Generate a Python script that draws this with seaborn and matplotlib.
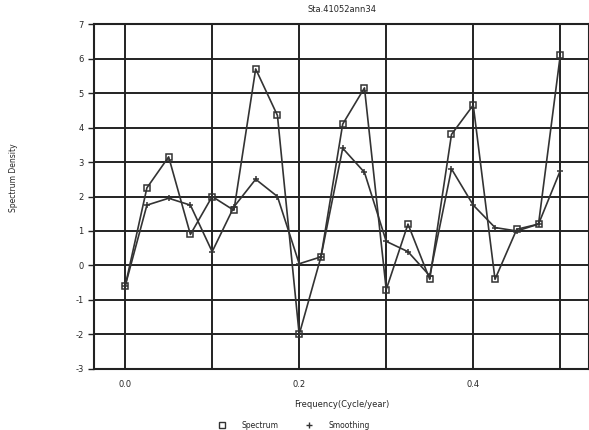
import numpy as np
import pandas as pd
import seaborn as sns
import matplotlib.pyplot as plt
from matplotlib.lines import Line2D

frequency = [0.0, 0.025, 0.05, 0.075, 0.1, 0.125, 0.15, 0.175, 0.2, 0.225, 0.25,
             0.275, 0.3, 0.325, 0.35, 0.375, 0.4, 0.425, 0.45, 0.475, 0.5]
spectrum = [-0.6, 2.25, 3.15, 0.9, 2.0, 1.6, 5.7, 4.35, -2.0, 0.25, 4.1,
            5.15, -0.7, 1.2, -0.4, 3.8, 4.65, -0.4, 1.05, 1.2, 6.1]
smoothing = [-0.6, 1.75, 1.95, 1.75, 0.4, 1.7, 2.5, 2.0, 0.05, 0.25, 3.4,
             2.7, 0.7, 0.4, -0.3, 2.8, 1.75, 1.1, 1.0, 1.2, 2.75]
x_ticks = [0.0, 0.1, 0.2, 0.3, 0.4, 0.5]
x_labels = ['0.0', '', '0.2', '', '0.4', '']
y_ticks = list(range(-3, 8))

sns.set_style('white')
plt.rcParams['font.family'] = ['DejaVu Sans']

fig = plt.figure(figsize=(5.89, 4.30), dpi=100)
ax = fig.add_axes([0.16, 0.142, 0.84, 0.802])

ink = '#333333'
# spectrum: open squares
sns.lineplot(x=frequency, y=spectrum, color=ink, linewidth=1.2, marker='s',
             markersize=5, markerfacecolor='none', markeredgecolor=ink,
             markeredgewidth=1.1, ax=ax)
# smoothing: small crosses
sns.lineplot(x=frequency, y=smoothing, color=ink, linewidth=1.2, marker='+',
             markersize=5, markeredgecolor=ink, markeredgewidth=1.1, ax=ax)

ax.set_xlim(-0.0355, 0.533)
ax.set_ylim(-3, 7)
ax.set_xticks(x_ticks)
ax.set_xticklabels(x_labels, fontsize=6)
ax.set_yticks(y_ticks)
ax.set_yticklabels([str(v) for v in y_ticks], fontsize=6)
ax.grid(True, color='#222222', linewidth=1.4)
ax.tick_params(axis='y', length=4, width=1, color='#222222', direction='out', left=True)
ax.tick_params(axis='x', length=0, pad=8)
for side in ax.spines.values():
    side.set_color('#222222')
    side.set_linewidth(1.5)

ax.set_title('Sta.41052ann34', fontsize=6, pad=9)
ax.set_xlabel('Frequency(Cycle/year)', fontsize=6, labelpad=8)
ax.set_ylabel('Spectrum Density', fontsize=5.5)
ax.yaxis.set_label_coords(-0.154, 0.554)

handles = [Line2D([], [], linestyle='none', marker='s', markersize=4,
                  markerfacecolor='none', markeredgecolor=ink, label='Spectrum'),
           Line2D([], [], linestyle='none', marker='+', markersize=4,
                  markeredgecolor=ink, label='Smoothing')]
ax.legend(handles=handles, loc='upper center', bbox_to_anchor=(0.4, -0.13),
          ncol=2, frameon=False, fontsize=5.5, columnspacing=3, handletextpad=1.5)

fig.savefig('out.png', dpi=100)
